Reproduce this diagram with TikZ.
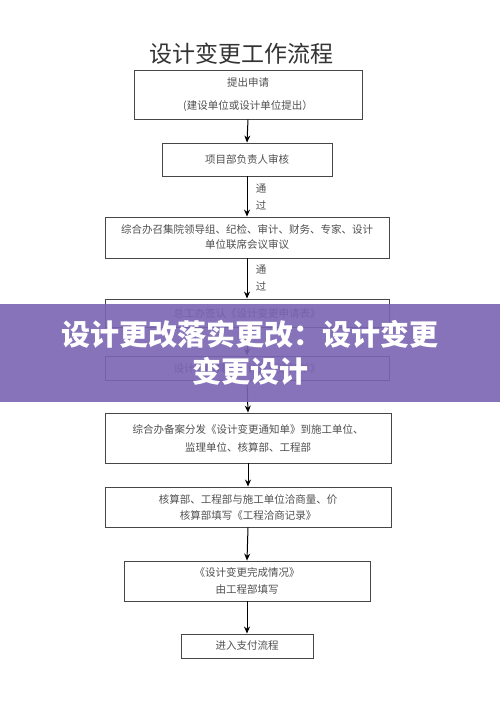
\documentclass[tikz,border=0pt]{standalone}
\usepackage{fontspec}
\setmainfont{Noto Sans CJK SC}
\usetikzlibrary{arrows.meta, positioning}
\definecolor{boxgray}{RGB}{70,70,70}
\definecolor{textgray}{RGB}{80,80,80}
\definecolor{bannerpurple}{RGB}{122,100,178}

\begin{document}
\begin{tikzpicture}[x=1pt, y=-1pt,
    stepbox/.style={rectangle, draw=boxgray, line width=0.9pt, fill=white,
                    align=center, font=\fontsize{10.5}{16}\selectfont,
                    text=textgray, inner sep=1pt},
    flow/.style={-{Stealth[length=7pt,width=6pt]}, line width=1pt},
    passlab/.style={font=\fontsize{10.5}{17}\selectfont, text=textgray,
                    align=center, inner sep=0pt},
]
\useasboundingbox (0,0) rectangle (500,706);

%---------------------------------------------------------------
% Title
%---------------------------------------------------------------
\node[font=\fontsize{23}{23}\selectfont, text=black!80] (title)
     at (241, 54) {设计变更工作流程};

%---------------------------------------------------------------
% Boxes, top to bottom
%---------------------------------------------------------------
\node[stepbox, minimum width=228pt, minimum height=49pt] (apply)
     at (248, 94.5) {提出申请\\[7pt](建设单位或设计单位提出）};
\node[stepbox, minimum width=170pt, minimum height=33pt] (review)
     at (247, 159.5) {项目部负责人审核};
\node[stepbox, minimum width=284pt, minimum height=41pt] (meeting)
     at (247, 237.5) {综合办召集院领导组、纪检、审计、财务、专家、设计\\[-1pt]单位联席会议审议};
\node[stepbox, minimum width=284pt, minimum height=28pt] (sign)
     at (247, 313) {总工办签认《设计变更申请表》};
\node[stepbox, minimum width=284pt, minimum height=24pt] (notice)
     at (247, 368) {设计院出具《设计变更通知单》};
\node[stepbox, minimum width=286pt, minimum height=50pt] (issue)
     at (248, 438) {综合办备案分发《设计变更通知单》到施工单位、\\[2pt]监理单位、核算部、工程部};
\node[stepbox, minimum width=286pt, minimum height=40pt] (negotiate)
     at (248, 507) {核算部、工程部与施工单位洽商量、价\\核算部填写《工程洽商记录》};
\node[stepbox, minimum width=246pt, minimum height=40pt] (finish)
     at (247, 581) {《设计变更完成情况》\\[1pt]由工程部填写};
\node[stepbox, minimum width=132pt, minimum height=24pt] (pay)
     at (247, 646) {进入支付流程};

%---------------------------------------------------------------
% Connectors
%---------------------------------------------------------------
\foreach \a/\b in {apply/review, review/meeting, meeting/sign, sign/notice,
                   notice/issue, issue/negotiate, negotiate/finish,
                   finish/pay} {
    \draw[flow] (\a.south) -- (\b.north);
}
\node[passlab] (pass1) at (261, 197) {通\\过};
\node[passlab] (pass2) at (261, 278) {通\\过};

%---------------------------------------------------------------
% Banner laid over the middle
%---------------------------------------------------------------
\fill[bannerpurple, opacity=0.9] (0,304) rectangle (500,402);
\node[font=\fontsize{29}{37}\selectfont\bfseries, text=white, align=center]
     (banner) at (250, 353) {设计更改落实更改：设计变更\\变更设计};

\end{tikzpicture}
\end{document}
